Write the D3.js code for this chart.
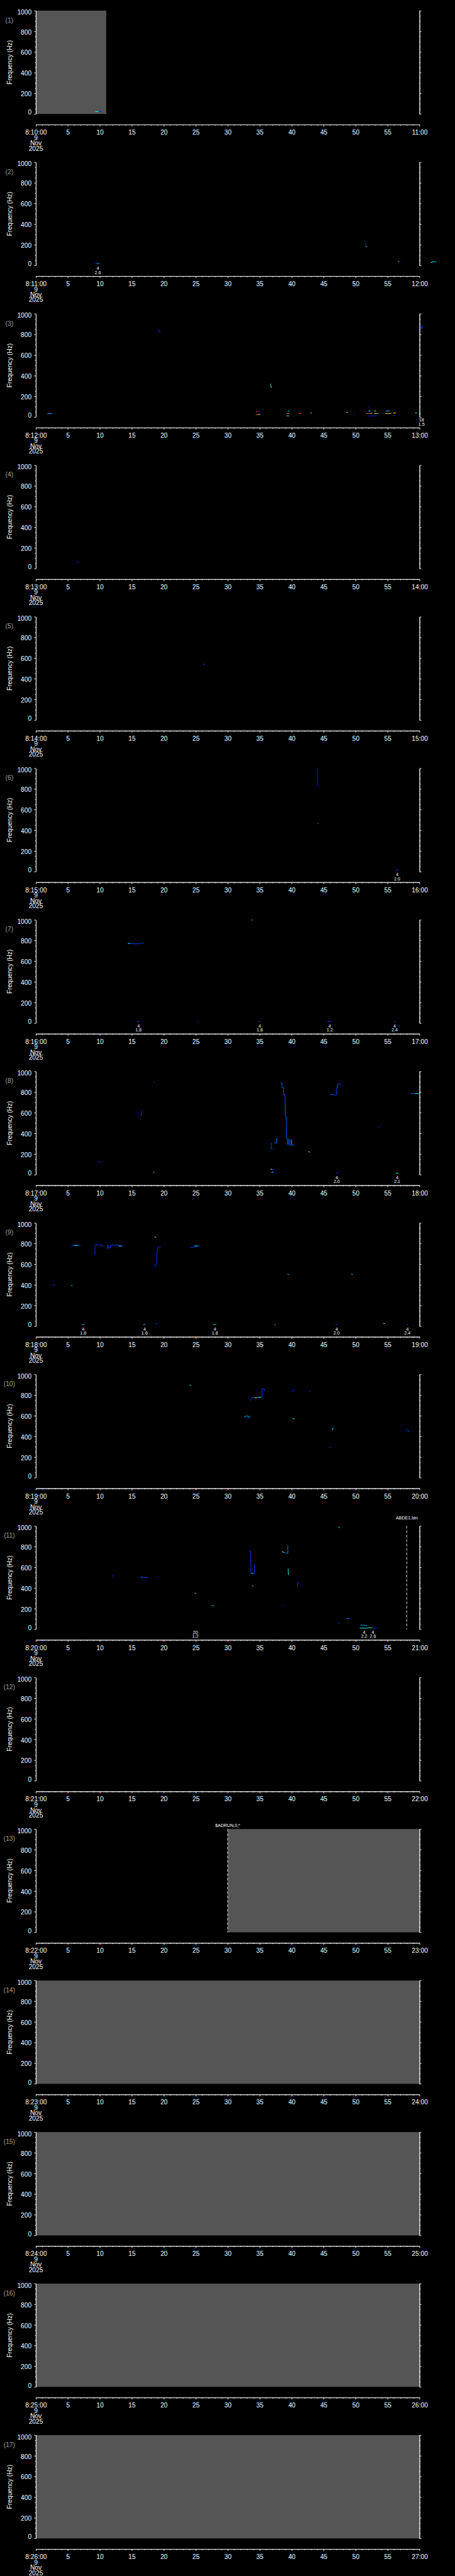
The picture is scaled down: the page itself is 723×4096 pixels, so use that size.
<!DOCTYPE html>
<html><head><meta charset="utf-8">
<script src="https://cdn.jsdelivr.net/npm/d3@7"></script>
<style>html,body{margin:0;padding:0;background:#000;}svg{display:block}</style>
</head><body>
<svg id="chart"></svg>
<script>
// ---------------- data ----------------
const panelMinutes = [10,11,12,13,14,15,16,17,18,19,20,21,22,23,24,25,26]; // 8:MM:00 start of each panel
const hourLabel = "8";
const dateLines = ["9","Nov","2025"];
const freqTicks = [0,200,400,600,800,1000];
const freqMinorTicks = d3.range(0,1001,50).filter(v => v % 200 !== 0);
const secondTicks = d3.range(0,61,5);
const secondMinorTicks = d3.range(0,61,1).filter(v => v % 5 !== 0);

// [panel, startSecond, endSecond] : gray "no data" areas
const noDataSpans = [[1,0,11.0],[13,30,60],[14,0,60],[15,0,60],[16,0,60],[17,0,60]];

// [panel, second, text, baselineOffset] : dashed marker lines with caption
const markers = [[11,58.0,"ABDE1.bin",9.5],[13,30.0,"$ADRUN,0,*",19.5]];

// [panel, second, line1, line2] : event labels below the plot
const eventLabels = [
  [2,9.69,"4","2.6"],
  [3,60.3,"18","1.5"],
  [6,56.5,"4","2.0"],
  [7,16.05,"4","1.8"],[7,35.0,"4","1.8"],[7,45.95,"4","1.2"],[7,56.1,"4","2.4"],
  [8,47.05,"4","2.0"],[8,56.5,"4","2.1"],
  [9,7.4,"4","1.6"],[9,17.0,"4","1.6"],[9,28.0,"4","1.8"],[9,47.03,"4","2.0"],[9,58.1,"4","2.4"],
  [11,24.94,"20","1.2"],[11,51.34,"4","2.2"],[11,52.7,"4","2.6"]
];

// [panel, intensity(0..1), [[second, Hz], ...]] : spectral traces
const traces = [
  [1,0.55,[[9.3,23],[9.8,23]]],[1,0.1,[[9.8,23],[10.3,23]]],

  [2,0.15,[[9.0,25],[9.35,25]]],[2,0.4,[[9.45,20],[9.95,20]]],
  [2,0.15,[[51.45,225],[51.55,225],[51.55,185],[51.75,185]]],[2,0.45,[[51.6,185],[51.8,185]]],
  [2,0.55,[[56.6,37],[56.8,37]]],[2,0.2,[[56.8,33],[57.0,33]]],
  [2,0.45,[[61.7,30],[62.0,30],[62.0,37],[62.6,37]]],

  [3,0.4,[[1.8,28],[1.95,33],[2.6,33]]],
  [3,0.2,[[19.1,852],[19.25,823],[19.5,830]]],
  [3,0.58,[[36.7,322],[36.75,289],[36.9,289]]],
  [3,0.25,[[60.25,885],[60.25,854],[60.4,860],[60.4,885]]],
  [3,1.0,[[34.4,54],[34.75,54]]],[3,0.15,[[34.75,54],[35.1,54]]],
  [3,0.9,[[34.4,24],[34.8,24]]],[3,0.75,[[34.8,24],[35.1,24]]],
  [3,0.6,[[39.2,11],[39.6,11]]],[3,0.5,[[39.4,59],[39.6,59]]],[3,0.95,[[39.2,34],[39.7,34]]],
  [3,0.95,[[41.1,34],[41.5,34]]],[3,0.85,[[42.9,39],[43.15,39]]],
  [3,0.5,[[48.5,46],[48.8,46]]],[3,0.15,[[49.7,24],[49.85,24]]],
  [3,0.3,[[52.0,102],[52.15,96]]],[3,0.5,[[52.0,59],[52.35,59]]],
  [3,0.95,[[51.7,34],[52.3,34]]],[3,0.75,[[52.3,34],[52.6,37]]],
  [3,0.15,[[52.0,11],[53.3,11]]],[3,0.78,[[52.9,59],[53.15,59]]],
  [3,0.85,[[52.9,34],[53.3,34]]],[3,0.5,[[53.3,34],[53.6,34]]],
  [3,0.45,[[54.7,59],[55.3,59]]],[3,0.85,[[54.6,34],[55.6,34]]],
  [3,0.8,[[55.9,39],[56.3,39]]],[3,0.2,[[55.9,16],[56.2,16]]],
  [3,0.5,[[59.3,39],[59.6,39]]],[3,0.45,[[59.9,29],[60.2,29]]],

  [4,0.2,[[6.3,68],[6.7,65]]],

  [5,0.2,[[26.1,540],[26.4,540]]],

  [6,0.1,[[44.05,1000],[44.1,833],[44.25,833]]],
  [6,0.5,[[44.1,471],[44.2,464]]],
  [6,0.15,[[56.2,17],[56.7,17]]],

  [7,0.25,[[14.4,770],[14.6,774],[15.5,767],[16.0,770],[16.9,774]]],[7,0.5,[[14.4,770],[14.7,772]]],
  [7,0.45,[[33.65,998],[33.9,998]]],
  [7,0.3,[[15.8,15],[16.2,15]]],[7,0.3,[[25.3,15],[25.5,15]]],[7,0.3,[[34.8,15],[35.1,15]]],
  [7,0.25,[[45.6,15],[46.2,15]]],[7,0.3,[[56.0,15],[56.2,15]]],

  [8,0.2,[[9.7,125],[10.05,125]]],
  [8,0.25,[[16.3,577],[16.5,577],[16.5,619]]],
  [8,0.15,[[18.4,903],[18.6,888]]],
  [8,0.9,[[18.3,23],[18.5,23]]],[8,0.15,[[18.5,23],[18.7,23]]],
  [8,0.75,[[36.7,53],[36.95,53]]],[8,0.2,[[36.95,53],[37.2,53]]],
  [8,1.0,[[36.7,23],[36.9,23]]],[8,0.5,[[36.9,23],[37.1,23]]],[8,0.15,[[37.1,23],[37.5,23]]],
  [8,0.3,[[36.83,308],[36.83,248],[37.05,248]]],
  [8,0.35,[[37.3,305],[37.41,308],[37.64,308],[37.64,344],[37.82,344]]],
  [8,0.32,[[38.23,888],[38.5,888],[38.5,842],[38.73,842],[38.73,774],[38.96,774],[39.0,566],[39.14,566],[39.23,351],[39.32,351],[39.32,294],[39.5,294],[39.5,340],[39.68,340],[39.68,287],[39.91,287],[39.91,340],[40.0,340],[40.0,287],[40.45,287]]],
  [8,0.6,[[42.6,222],[42.9,218]]],
  [8,0.3,[[46.0,776],[46.5,776],[46.6,771],[47.03,771],[47.03,845],[47.15,845],[47.2,877],[47.5,877],[47.75,874]]],
  [8,0.15,[[46.9,15],[47.3,15]]],
  [8,0.2,[[53.6,458],[53.8,455]]],
  [8,0.5,[[56.3,15],[56.7,15]]],
  [8,0.35,[[58.6,785],[59.3,785]]],[8,0.5,[[59.3,785],[59.9,785]]],[8,0.3,[[59.9,785],[60.1,795]]],

  [9,0.15,[[2.6,397],[3.0,397]]],
  [9,0.4,[[5.46,394],[5.74,394]]],
  [9,0.3,[[5.6,768],[5.7,782],[6.97,782]]],[9,0.5,[[6.0,782],[6.6,782]]],
  [9,0.2,[[9.24,687],[9.24,787],[9.8,787],[10.37,785],[10.37,776],[10.6,776]]],
  [9,0.25,[[11.1,750],[11.19,747],[11.19,782],[11.35,782],[11.35,758],[11.65,758],[11.65,782],[12.1,785],[12.92,785],[12.92,776],[13.69,776]]],[9,0.5,[[13.0,776],[13.4,776]]],
  [9,0.6,[[18.55,866],[18.83,858]]],
  [9,0.2,[[18.66,568],[18.7,601],[18.9,601],[18.94,743],[19.06,743],[19.06,768],[19.52,768]]],
  [9,0.2,[[24.15,763],[24.69,760],[24.69,776],[25.73,776]]],[9,0.5,[[24.8,776],[25.3,776]]],
  [9,0.45,[[39.35,502],[39.6,502]]],[9,0.45,[[49.3,502],[49.6,502]]],
  [9,0.45,[[7.2,16],[7.6,16]]],[9,0.45,[[16.8,16],[17.1,16]]],[9,0.3,[[18.7,25],[19.05,25]]],
  [9,0.45,[[27.7,16],[28.2,16]]],[9,0.45,[[37.3,16],[37.5,16]]],[9,0.2,[[46.8,16],[47.2,16]]],
  [9,0.55,[[54.3,25],[54.6,25]]],[9,0.2,[[57.9,16],[58.2,16]]],

  [10,0.45,[[24.0,898],[24.3,892]]],
  [10,0.25,[[33.56,745],[33.7,773],[34.56,773],[34.56,778],[35.37,778],[35.37,859],[35.69,859],[35.8,838]]],
  [10,0.75,[[34.2,773],[34.56,773]]],[10,0.65,[[34.7,778],[35.2,778]]],
  [10,0.4,[[32.65,580],[32.7,597],[33.2,597],[33.3,580],[33.5,597]]],
  [10,0.15,[[40.0,838],[40.15,831],[40.3,852],[40.6,852]]],
  [10,0.15,[[42.7,834],[42.9,834]]],
  [10,0.5,[[40.1,571],[40.45,571]]],
  [10,0.45,[[46.35,458],[46.4,479],[46.6,479]]],
  [10,0.2,[[45.9,293],[46.1,293]]],
  [10,0.2,[[57.9,458],[58.3,458],[58.35,443]]],

  [11,0.2,[[11.9,508],[12.0,515],[12.2,525]]],
  [11,0.3,[[16.4,494],[16.55,513],[16.7,499],[17.55,499]]],
  [11,0.45,[[24.8,350],[25.1,345]]],
  [11,0.45,[[27.5,230],[27.85,225]]],
  [11,0.25,[[33.3,762],[33.6,751],[33.65,544],[34.15,540],[34.2,540],[34.2,625]]],[11,0.5,[[33.7,544],[34.0,540]]],
  [11,0.7,[[33.8,418],[34.0,418]]],[11,0.2,[[34.0,418],[34.15,418]]],
  [11,0.35,[[38.5,751],[38.8,744],[39.2,737],[39.4,737],[39.4,814]]],[11,0.75,[[38.5,751],[38.75,745]]],
  [11,0.5,[[39.45,587],[39.5,525]]],
  [11,0.2,[[38.5,222],[38.7,222]]],
  [11,0.2,[[40.9,411],[40.95,453],[41.2,453]]],
  [11,0.45,[[47.25,994],[47.6,980]]],
  [11,0.2,[[47.2,61],[47.5,61]]],
  [11,0.35,[[48.6,103],[49.1,106]]],
  [11,0.4,[[50.75,41],[51.8,37]]],
  [11,0.65,[[50.65,11],[51.2,11]]],[11,0.5,[[51.2,11],[52.0,11]]],[11,0.65,[[52.0,14],[52.6,14]]],[11,0.2,[[52.6,14],[53.4,8]]]
];

// ---------------- layout ----------------
const W = 1024, H = 5802, N = panelMinutes.length, PH = H / N;
const X0 = 80.7, X1 = 944.3, YT = 24, YB = 256.7, XAX = 280.7;
const FONT = "'Liberation Sans', Arial, sans-serif";

const x = d3.scaleLinear().domain([0,60]).range([X0,X1]);
const y = d3.scaleLinear().domain([0,1000]).range([YB,YT]);
const color = d3.scaleLinear()
  .domain([0,0.3,0.5,0.65,0.8,1])
  .range(["#0000f0","#0048ff","#00ffff","#50ff70","#ffff00","#ff0000"])
  .clamp(true);
const line = d3.line().x(d => x(d[0])).y(d => y(d[1]));

const svg = d3.select("#chart")
  .attr("width", 723).attr("height", 4096)
  .attr("viewBox", `0 0 ${W} ${H}`);
svg.append("rect").attr("width", W).attr("height", H).attr("fill", "#000");

function styleAxis(g) {
  g.selectAll("path.domain").attr("stroke", "#fff").attr("stroke-width", 1.2);
  g.selectAll(".tick line").attr("stroke", "#fff").attr("stroke-width", 1.2);
  g.selectAll("text").attr("fill", "#fff").attr("font-family", FONT).attr("font-size", 14.5);
}

panelMinutes.forEach((mm, i) => {
  const p = i + 1;
  const g = svg.append("g").attr("transform", `translate(0,${i * PH})`);

  // no-data areas
  noDataSpans.filter(s => s[0] === p).forEach(s => {
    g.append("rect")
      .attr("x", x(s[1])).attr("y", y(1000))
      .attr("width", x(s[2]) - x(s[1])).attr("height", y(0) - y(1000))
      .attr("fill", "#555555");
  });

  // traces
  traces.filter(t => t[0] === p).forEach(t => {
    g.append("path").attr("d", line(t[2]))
      .attr("fill", "none").attr("stroke", color(t[1]))
      .attr("stroke-width", 1.4).attr("stroke-linejoin", "miter");
  });

  // markers
  markers.filter(m => m[0] === p).forEach(m => {
    g.append("line").attr("x1", x(m[1])).attr("x2", x(m[1]))
      .attr("y1", y(1000)).attr("y2", y(0))
      .attr("stroke", "#fff").attr("stroke-width", 1.2).attr("stroke-dasharray", "6,4");
    g.append("text").attr("x", x(m[1])).attr("y", m[3])
      .attr("text-anchor", "middle").attr("fill", "#fff")
      .attr("font-family", FONT).attr("font-size", 10).text(m[2]);
  });

  // event labels
  eventLabels.filter(e => e[0] === p).forEach(e => {
    const t = g.append("text").attr("text-anchor", "middle").attr("fill", "#fff")
      .attr("font-family", FONT).attr("font-size", 10);
    t.append("tspan").attr("x", x(e[1])).attr("y", 267).text(e[2]);
    t.append("tspan").attr("x", x(e[1])).attr("y", 276).text(e[3]);
  });

  // left axis
  const yl = g.append("g").attr("transform", `translate(${X0},0)`)
    .call(d3.axisLeft(y).tickValues(freqTicks).tickFormat(d3.format("d")).tickSize(4).tickPadding(5.7).tickSizeOuter(0));
  yl.selectAll(".tick text").attr("dy", null)
    .attr("y", d => (d === 1000 ? 3.5 : d === 0 ? -4 : 1) + 5.2);
  styleAxis(yl);
  const ylm = g.append("g").attr("transform", `translate(${X0},0)`)
    .call(d3.axisLeft(y).tickValues(freqMinorTicks).tickSize(2).tickFormat("").tickSizeOuter(0));
  styleAxis(ylm);

  // right axis
  const yr = g.append("g").attr("transform", `translate(${X1},0)`)
    .call(d3.axisRight(y).tickValues(freqTicks).tickSize(4.3).tickFormat("").tickSizeOuter(0));
  styleAxis(yr);
  const yrm = g.append("g").attr("transform", `translate(${X1},0)`)
    .call(d3.axisRight(y).tickValues(freqMinorTicks).tickSize(2.3).tickFormat("").tickSizeOuter(0));
  styleAxis(yrm);

  // bottom axis
  const fmt = s => s === 0 ? `${hourLabel}:${mm}:00` : s === 60 ? `${mm + 1}:00` : String(s);
  const xb = g.append("g").attr("transform", `translate(0,${XAX})`)
    .call(d3.axisBottom(x).tickValues(secondTicks).tickSize(4.3).tickFormat(fmt).tickSizeOuter(0));
  xb.selectAll(".tick text").attr("dy", null).attr("y", 22.6);
  styleAxis(xb);
  const xbm = g.append("g").attr("transform", `translate(0,${XAX})`)
    .call(d3.axisBottom(x).tickValues(secondMinorTicks).tickSize(2.3).tickFormat("").tickSizeOuter(0));
  styleAxis(xbm);

  // date lines under first tick
  const dl = g.append("text").attr("text-anchor", "middle").attr("fill", "#fff")
    .attr("font-family", FONT).attr("font-size", 14.5);
  [315.3, 327.5, 339.3].forEach((yy, k) => {
    dl.append("tspan").attr("x", x(0)).attr("y", yy).text(dateLines[k]);
  });

  // panel number
  g.append("text").attr("x", 21).attr("y", 50.5).attr("text-anchor", "middle")
    .attr("fill", "#a0a0a0").attr("font-family", FONT).attr("font-size", 14.5).text(`(${p})`);

  // y title
  g.append("text").attr("transform", `translate(26.5,140.4) rotate(-90)`)
    .attr("text-anchor", "middle").attr("fill", "#fff")
    .attr("font-family", FONT).attr("font-size", 14.5).text("Frequency (Hz)");
});
</script>
</body></html>
